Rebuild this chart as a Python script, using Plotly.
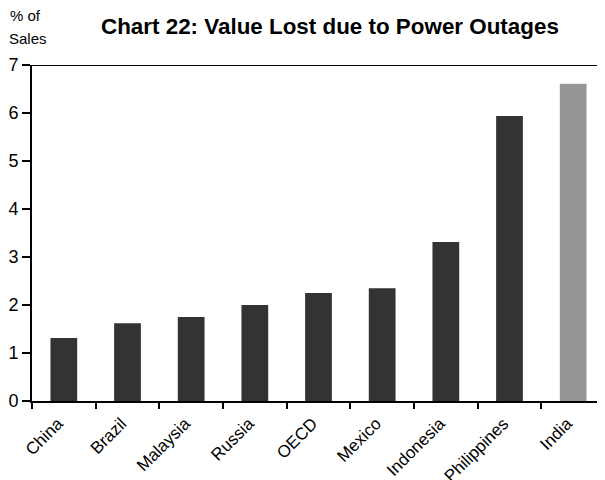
import plotly.graph_objects as go

categories = ["China", "Brazil", "Malaysia", "Russia", "OECD", "Mexico", "Indonesia", "Philippines", "India"]
values = [1.31, 1.62, 1.75, 2.0, 2.25, 2.35, 3.31, 5.94, 6.61]
colors = ["#333333"] * 8 + ["#969696"]

fig = go.Figure(go.Bar(x=categories, y=values, marker=dict(color=colors, line=dict(width=0)), width=0.42))

font = "Liberation Sans, Arial, sans-serif"
OFF = 8  # page body margin
W, H = 605 - OFF, 480 - OFF
L, T = 32 - OFF, 65 - OFF
PH = 401 - 65
B = H - T - PH
PW = W - L
fig.update_layout(
    width=W, height=H,
    margin=dict(l=L, r=0, t=T, b=B, autoexpand=False),
    plot_bgcolor="white", paper_bgcolor="white",
    showlegend=False,
    font=dict(family=font, color="black"),
)
fig.update_xaxes(
    automargin=False,
    showline=True, linecolor="black", linewidth=2, mirror=False,
    ticks="outside", tickson="boundaries", ticklen=6, tickcolor="black", tickwidth=1.5,
    tickangle=-45, tickfont=dict(size=17, family=font),
    ticklabelstandoff=4, ticklabelshift=-6,
    showgrid=False, range=[-0.5, 8.5],
)
fig.update_yaxes(
    automargin=False,
    range=[0, 7], dtick=1, showline=True, linecolor="black", linewidth=2,
    ticks="outside", ticklen=8, tickcolor="black", tickwidth=1.5,
    tickfont=dict(size=18, family=font), showgrid=False, zeroline=False,
)
fig.add_shape(type="line", xref="paper", yref="y", x0=0, x1=1, y0=7, y1=7,
              line=dict(color="black", width=2))
fig.add_annotation(text="<b>Chart 22: Value Lost due to Power Outages</b>", xref="paper", yref="paper",
                   x=(330 - 32) / PW, y=1, yshift=65 - 26, xanchor="center", yanchor="middle",
                   showarrow=False, font=dict(size=22.4, family=font))
fig.add_annotation(text="% of", xref="paper", yref="paper", x=-L / PW, y=1, xanchor="left", yanchor="middle",
                   xshift=0, yshift=65 - 15, showarrow=False, font=dict(size=15, family=font))
fig.add_annotation(text="Sales", xref="paper", yref="paper", x=-L / PW, y=1, xanchor="left", yanchor="middle",
                   xshift=-1, yshift=65 - 38, showarrow=False, font=dict(size=15, family=font))

fig.write_html("out.html")
